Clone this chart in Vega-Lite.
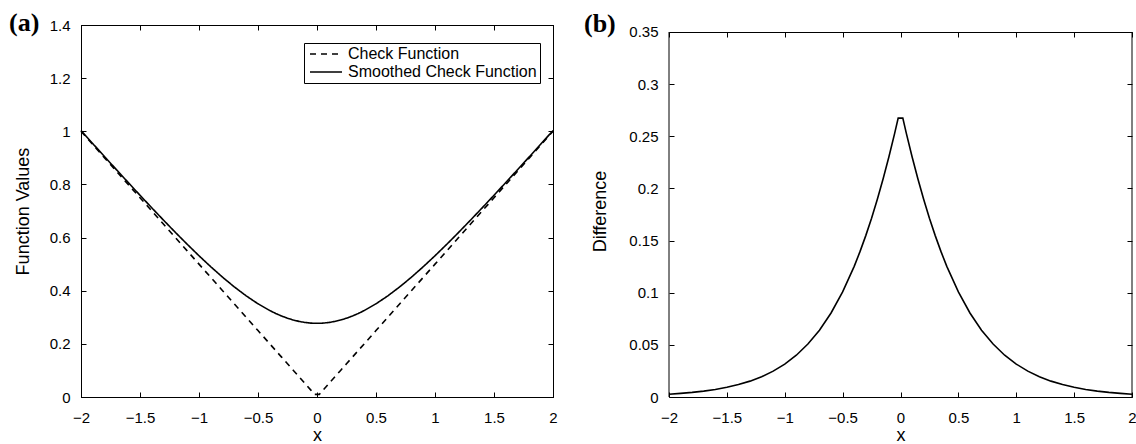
{
  "$schema": "https://vega.github.io/schema/vega-lite/v6.json",
  "background": "white",
  "padding": {"left": 8, "top": 9, "right": 0, "bottom": 0},
  "spacing": 26,
  "config": {
    "view": {"stroke": "black", "strokeWidth": 1},
    "font": "Liberation Sans",
    "axis": {
      "domainColor": "black", "domainWidth": 1, "tickColor": "black", "tickSize": -5, "tickWidth": 1,
      "labelPadding": 16, "labelFontSize": 15, "labelColor": "black", "labelFont": "Liberation Sans",
      "titleFontSize": 18, "titleFontWeight": "normal", "titleColor": "black", "titleFont": "Liberation Sans",
      "grid": false, "labelFlush": false, "labelOverlap": false
    },
    "axisBottom": {"labelPadding": 18, "titlePadding": 1},
    "legend": {
      "orient": "none", "strokeColor": "black", "fillColor": "white", "padding": 3,
      "symbolType": "M-3.2,0H3.2", "symbolSize": 100, "symbolOffset": 11, "symbolStrokeWidth": 1.6, "symbolStrokeColor": "black",
      "labelFont": "Liberation Sans", "labelFontSize": 16, "labelColor": "black", "labelOffset": 14, "labelLimit": 0, "rowPadding": 2, "cornerRadius": 0
    }
  },
  "datasets": {
    "a": [
      {"x": -2.0, "series": "Check Function", "y": 1.0}, {"x": -2.0, "series": "Smoothed Check Function", "y": 1.00269},
      {"x": -1.9, "series": "Check Function", "y": 0.95}, {"x": -1.9, "series": "Smoothed Check Function", "y": 0.95345},
      {"x": -1.8, "series": "Check Function", "y": 0.9}, {"x": -1.8, "series": "Smoothed Check Function", "y": 0.90442},
      {"x": -1.7, "series": "Check Function", "y": 0.85}, {"x": -1.7, "series": "Smoothed Check Function", "y": 0.85567},
      {"x": -1.6, "series": "Check Function", "y": 0.8}, {"x": -1.6, "series": "Smoothed Check Function", "y": 0.80726},
      {"x": -1.5, "series": "Check Function", "y": 0.75}, {"x": -1.5, "series": "Smoothed Check Function", "y": 0.7593},
      {"x": -1.4, "series": "Check Function", "y": 0.7}, {"x": -1.4, "series": "Smoothed Check Function", "y": 0.7119},
      {"x": -1.3, "series": "Check Function", "y": 0.65}, {"x": -1.3, "series": "Smoothed Check Function", "y": 0.66522},
      {"x": -1.2, "series": "Check Function", "y": 0.6}, {"x": -1.2, "series": "Smoothed Check Function", "y": 0.61943},
      {"x": -1.1, "series": "Check Function", "y": 0.55}, {"x": -1.1, "series": "Smoothed Check Function", "y": 0.57479},
      {"x": -1.0, "series": "Check Function", "y": 0.5}, {"x": -1.0, "series": "Smoothed Check Function", "y": 0.53156},
      {"x": -0.9, "series": "Check Function", "y": 0.45}, {"x": -0.9, "series": "Smoothed Check Function", "y": 0.49008},
      {"x": -0.8, "series": "Check Function", "y": 0.4}, {"x": -0.8, "series": "Smoothed Check Function", "y": 0.45077},
      {"x": -0.7, "series": "Check Function", "y": 0.35}, {"x": -0.7, "series": "Smoothed Check Function", "y": 0.41409},
      {"x": -0.6, "series": "Check Function", "y": 0.3}, {"x": -0.6, "series": "Smoothed Check Function", "y": 0.38057},
      {"x": -0.5, "series": "Check Function", "y": 0.25}, {"x": -0.5, "series": "Smoothed Check Function", "y": 0.35077},
      {"x": -0.4, "series": "Check Function", "y": 0.2}, {"x": -0.4, "series": "Smoothed Check Function", "y": 0.3253},
      {"x": -0.35, "series": "Check Function", "y": 0.175}, {"x": -0.35, "series": "Smoothed Check Function", "y": 0.31438},
      {"x": -0.3, "series": "Check Function", "y": 0.15}, {"x": -0.3, "series": "Smoothed Check Function", "y": 0.30475},
      {"x": -0.25, "series": "Check Function", "y": 0.125}, {"x": -0.25, "series": "Smoothed Check Function", "y": 0.29648},
      {"x": -0.2, "series": "Check Function", "y": 0.1}, {"x": -0.2, "series": "Smoothed Check Function", "y": 0.28963},
      {"x": -0.15, "series": "Check Function", "y": 0.075}, {"x": -0.15, "series": "Smoothed Check Function", "y": 0.28425},
      {"x": -0.1, "series": "Check Function", "y": 0.05}, {"x": -0.1, "series": "Smoothed Check Function", "y": 0.28038},
      {"x": -0.05, "series": "Check Function", "y": 0.025}, {"x": -0.05, "series": "Smoothed Check Function", "y": 0.27804},
      {"x": -0.02, "series": "Check Function", "y": 0.01}, {"x": -0.02, "series": "Smoothed Check Function", "y": 0.27738},
      {"x": 0.02, "series": "Check Function", "y": 0.01}, {"x": 0.02, "series": "Smoothed Check Function", "y": 0.27738},
      {"x": 0.05, "series": "Check Function", "y": 0.025}, {"x": 0.05, "series": "Smoothed Check Function", "y": 0.27804},
      {"x": 0.1, "series": "Check Function", "y": 0.05}, {"x": 0.1, "series": "Smoothed Check Function", "y": 0.28038},
      {"x": 0.15, "series": "Check Function", "y": 0.075}, {"x": 0.15, "series": "Smoothed Check Function", "y": 0.28425},
      {"x": 0.2, "series": "Check Function", "y": 0.1}, {"x": 0.2, "series": "Smoothed Check Function", "y": 0.28963},
      {"x": 0.25, "series": "Check Function", "y": 0.125}, {"x": 0.25, "series": "Smoothed Check Function", "y": 0.29648},
      {"x": 0.3, "series": "Check Function", "y": 0.15}, {"x": 0.3, "series": "Smoothed Check Function", "y": 0.30475},
      {"x": 0.35, "series": "Check Function", "y": 0.175}, {"x": 0.35, "series": "Smoothed Check Function", "y": 0.31438},
      {"x": 0.4, "series": "Check Function", "y": 0.2}, {"x": 0.4, "series": "Smoothed Check Function", "y": 0.3253},
      {"x": 0.5, "series": "Check Function", "y": 0.25}, {"x": 0.5, "series": "Smoothed Check Function", "y": 0.35077},
      {"x": 0.6, "series": "Check Function", "y": 0.3}, {"x": 0.6, "series": "Smoothed Check Function", "y": 0.38057},
      {"x": 0.7, "series": "Check Function", "y": 0.35}, {"x": 0.7, "series": "Smoothed Check Function", "y": 0.41409},
      {"x": 0.8, "series": "Check Function", "y": 0.4}, {"x": 0.8, "series": "Smoothed Check Function", "y": 0.45077},
      {"x": 0.9, "series": "Check Function", "y": 0.45}, {"x": 0.9, "series": "Smoothed Check Function", "y": 0.49008},
      {"x": 1.0, "series": "Check Function", "y": 0.5}, {"x": 1.0, "series": "Smoothed Check Function", "y": 0.53156},
      {"x": 1.1, "series": "Check Function", "y": 0.55}, {"x": 1.1, "series": "Smoothed Check Function", "y": 0.57479},
      {"x": 1.2, "series": "Check Function", "y": 0.6}, {"x": 1.2, "series": "Smoothed Check Function", "y": 0.61943},
      {"x": 1.3, "series": "Check Function", "y": 0.65}, {"x": 1.3, "series": "Smoothed Check Function", "y": 0.66522},
      {"x": 1.4, "series": "Check Function", "y": 0.7}, {"x": 1.4, "series": "Smoothed Check Function", "y": 0.7119},
      {"x": 1.5, "series": "Check Function", "y": 0.75}, {"x": 1.5, "series": "Smoothed Check Function", "y": 0.7593},
      {"x": 1.6, "series": "Check Function", "y": 0.8}, {"x": 1.6, "series": "Smoothed Check Function", "y": 0.80726},
      {"x": 1.7, "series": "Check Function", "y": 0.85}, {"x": 1.7, "series": "Smoothed Check Function", "y": 0.85567},
      {"x": 1.8, "series": "Check Function", "y": 0.9}, {"x": 1.8, "series": "Smoothed Check Function", "y": 0.90442},
      {"x": 1.9, "series": "Check Function", "y": 0.95}, {"x": 1.9, "series": "Smoothed Check Function", "y": 0.95345},
      {"x": 2.0, "series": "Check Function", "y": 1.0}, {"x": 2.0, "series": "Smoothed Check Function", "y": 1.00269}
    ],
    "b": [
      {"x": -2.0, "d": 0.00269}, {"x": -1.9, "d": 0.00345}, {"x": -1.8, "d": 0.00442}, {"x": -1.7, "d": 0.00567},
      {"x": -1.6, "d": 0.00726}, {"x": -1.5, "d": 0.0093}, {"x": -1.4, "d": 0.0119}, {"x": -1.3, "d": 0.01522},
      {"x": -1.2, "d": 0.01943}, {"x": -1.1, "d": 0.02479}, {"x": -1.0, "d": 0.03156}, {"x": -0.9, "d": 0.04008},
      {"x": -0.8, "d": 0.05077}, {"x": -0.7, "d": 0.06409}, {"x": -0.6, "d": 0.08057}, {"x": -0.5, "d": 0.10077},
      {"x": -0.4, "d": 0.1253}, {"x": -0.35, "d": 0.13938}, {"x": -0.3, "d": 0.15475}, {"x": -0.25, "d": 0.17148},
      {"x": -0.2, "d": 0.18963}, {"x": -0.15, "d": 0.20925}, {"x": -0.1, "d": 0.23038}, {"x": -0.05, "d": 0.25304},
      {"x": -0.02, "d": 0.26738}, {"x": 0.02, "d": 0.26738}, {"x": 0.05, "d": 0.25304}, {"x": 0.1, "d": 0.23038},
      {"x": 0.15, "d": 0.20925}, {"x": 0.2, "d": 0.18963}, {"x": 0.25, "d": 0.17148}, {"x": 0.3, "d": 0.15475},
      {"x": 0.35, "d": 0.13938}, {"x": 0.4, "d": 0.1253}, {"x": 0.5, "d": 0.10077}, {"x": 0.6, "d": 0.08057},
      {"x": 0.7, "d": 0.06409}, {"x": 0.8, "d": 0.05077}, {"x": 0.9, "d": 0.04008}, {"x": 1.0, "d": 0.03156},
      {"x": 1.1, "d": 0.02479}, {"x": 1.2, "d": 0.01943}, {"x": 1.3, "d": 0.01522}, {"x": 1.4, "d": 0.0119},
      {"x": 1.5, "d": 0.0093}, {"x": 1.6, "d": 0.00726}, {"x": 1.7, "d": 0.00567}, {"x": 1.8, "d": 0.00442},
      {"x": 1.9, "d": 0.00345}, {"x": 2.0, "d": 0.00269}
    ]
  },
  "hconcat": [
    {
      "width": 472,
      "height": 372,
      "title": {"text": "(a)", "anchor": "start", "frame": "group", "dx": -72, "offset": -18, "font": "Liberation Serif", "fontWeight": "bold", "fontSize": 26, "color": "black"},
      "data": {"name": "a"},
      "layer": [
        {
          "mark": {"type": "line", "stroke": "black", "strokeWidth": 1.6},
          "encoding": {
            "x": {"field": "x", "type": "quantitative", "scale": {"domain": [-2, 2], "nice": false, "zero": false},
                  "axis": {"values": [-2, -1.5, -1, -0.5, 0, 0.5, 1, 1.5, 2], "format": "~g", "title": "x"}},
            "y": {"field": "y", "type": "quantitative", "scale": {"domain": [0, 1.4], "nice": false},
                  "axis": {"values": [0, 0.2, 0.4, 0.6, 0.8, 1, 1.2, 1.4], "format": "~g", "title": "Function Values", "titlePadding": 17}},
            "strokeDash": {"field": "series", "type": "nominal",
                  "scale": {"domain": ["Check Function", "Smoothed Check Function"], "range": [[6, 5], [1, 0]]},
                  "legend": {"title": null, "legendX": 223, "legendY": 18}}
          }
        },
        {
          "mark": {"type": "line", "strokeOpacity": 0},
          "encoding": {
            "x": {"field": "x", "type": "quantitative",
                  "axis": {"orient": "top", "labels": false, "title": null, "values": [-2, -1.5, -1, -0.5, 0, 0.5, 1, 1.5, 2]}},
            "y": {"field": "y", "type": "quantitative",
                  "axis": {"orient": "right", "labels": false, "title": null, "values": [0, 0.2, 0.4, 0.6, 0.8, 1, 1.2, 1.4]}},
            "detail": {"field": "series"}
          }
        }
      ],
      "resolve": {"axis": {"x": "independent", "y": "independent"}}
    },
    {
      "width": 463,
      "height": 372,
      "view": {"stroke": null},
      "title": {"text": "(b)", "anchor": "start", "frame": "group", "dx": -85, "offset": -12, "font": "Liberation Serif", "fontWeight": "bold", "fontSize": 26, "color": "black"},
      "layer": [
        {
          "data": {"name": "b"},
          "mark": {"type": "line", "stroke": "black", "strokeWidth": 1.6},
          "encoding": {
            "x": {"field": "x", "type": "quantitative", "scale": {"domain": [-2, 2], "nice": false, "zero": false},
                  "axis": {"values": [-2, -1.5, -1, -0.5, 0, 0.5, 1, 1.5, 2], "format": "~g", "title": "x"}},
            "y": {"field": "d", "type": "quantitative", "scale": {"domain": [0, 0.35671], "nice": false},
                  "axis": {"values": [0, 0.05, 0.1, 0.15, 0.2, 0.25, 0.3, 0.35], "format": "~g", "title": "Difference", "titlePadding": 19, "domain": false}}
          }
        },
        {
          "data": {"name": "b"},
          "mark": {"type": "line", "strokeOpacity": 0},
          "encoding": {
            "x": {"field": "x", "type": "quantitative",
                  "axis": {"orient": "top", "labels": false, "title": null, "offset": -7, "values": [-2, -1.5, -1, -0.5, 0, 0.5, 1, 1.5, 2]}},
            "y": {"field": "d", "type": "quantitative",
                  "axis": {"orient": "right", "labels": false, "title": null, "domain": false, "values": [0, 0.05, 0.1, 0.15, 0.2, 0.25, 0.3, 0.35]}}
          }
        },
        {
          "data": {"values": [{"edge": -2}, {"edge": 2}]},
          "mark": {"type": "rule", "stroke": "black", "strokeWidth": 1},
          "encoding": {
            "x": {"field": "edge", "type": "quantitative", "axis": null},
            "y": {"datum": 0, "type": "quantitative", "axis": null},
            "y2": {"datum": 0.35}
          }
        }
      ],
      "resolve": {"axis": {"x": "independent", "y": "independent"}}
    }
  ]
}
